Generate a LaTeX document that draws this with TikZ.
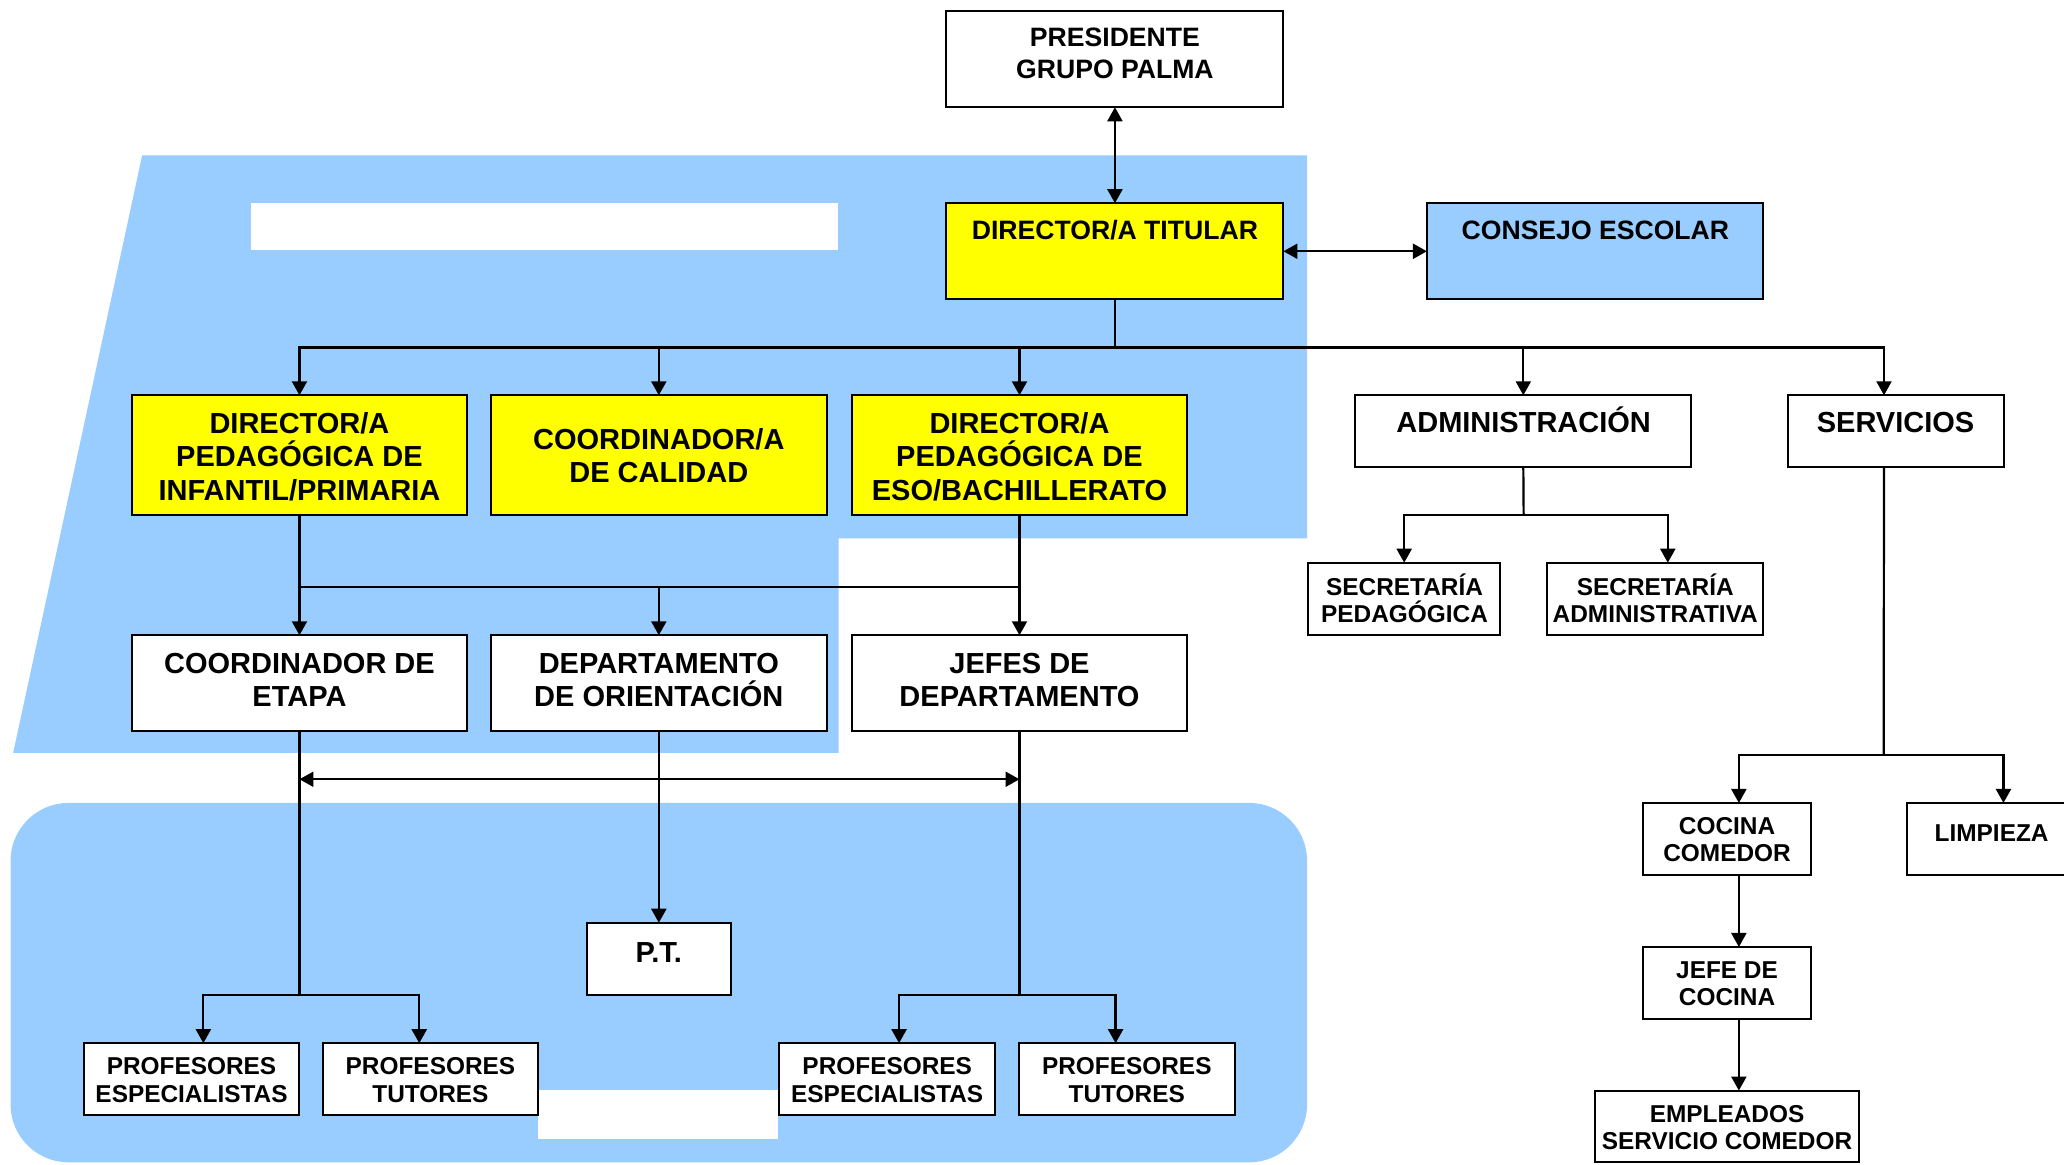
\documentclass[tikz,border=0pt]{standalone}
\usepackage{fontspec}
\setmainfont{Liberation Sans}
\usetikzlibrary{arrows.meta,calc}
\definecolor{bluec}{HTML}{99CCFF}
\definecolor{yellowc}{HTML}{FFFF00}
\newcommand\bx[6]{\node[#1, minimum width={(#5-#3)*0.6582pt}, minimum height={(#6-#4)*0.6582pt}] (#2) at ({(#3+#5)/2},{(#4+#6)/2}) {};}
\tikzset{
  box/.style={draw=black, line width=1pt, fill=white, inner sep=0pt, outer sep=0pt},
  ybox/.style={box, fill=yellowc},
  bbox/.style={box, fill=bluec},
  tA/.style={font=\fontsize{13.3}{15.8}\selectfont\bfseries, align=center, inner sep=0pt},
  tB/.style={font=\fontsize{14.5}{16.8}\selectfont\bfseries, align=center, inner sep=0pt},
  tC/.style={font=\fontsize{12.2}{13.6}\selectfont\bfseries, align=center, inner sep=0pt},
  ln/.style={line width=1.1pt, black},
  arr/.style={ln, -{Triangle[length=7pt,width=7.5pt]}},
  dbl/.style={ln, {Triangle[length=7pt,width=7.5pt]}-{Triangle[length=7pt,width=7.5pt]}}
}
\begin{document}
\begin{tikzpicture}[x=0.6582pt, y=-0.6582pt]
\useasboundingbox (0,0) rectangle (1568,885);
\clip (0,0) rectangle (1568,885);
% backgrounds
\fill[bluec] (108,118) -- (993,118) -- (993,409) -- (637,409) -- (637,572) -- (10,572) -- cycle;
\fill[white] (190.5,154.3) rectangle (636.7,190.3);
\fill[bluec, rounded corners=29pt] (8,610) rectangle (993,883);
\fill[white] (409,828) rectangle (591,865);
% boxes
\bx{box}{pres}{719}{8.5}{975}{81.5}
\bx{ybox}{dirtit}{719}{154.4}{975}{227.4}
\bx{bbox}{consejo}{1084}{154.4}{1339.5}{227.4}
\bx{ybox}{dirinf}{100}{300.3}{355}{391.4}
\bx{ybox}{calidad}{373}{300.3}{628}{391.4}
\bx{ybox}{direso}{647}{300.3}{902}{391.4}
\bx{box}{admin}{1029.5}{300.3}{1285}{355}
\bx{box}{serv}{1358}{300.3}{1522.5}{355}
\bx{box}{secped}{994}{427.5}{1139.5}{482.6}
\bx{box}{secadm}{1175.5}{427.5}{1339.5}{482.6}
\bx{box}{coordetapa}{100}{482.6}{355}{555.6}
\bx{box}{deporient}{373}{482.6}{628}{555.6}
\bx{box}{jefes}{647}{482.6}{902}{555.6}
\bx{box}{pt}{446}{701}{555}{756}
\bx{box}{profesp1}{63.5}{792.5}{227.5}{847}
\bx{box}{proftut1}{245}{792.5}{409}{847}
\bx{box}{profesp2}{592}{792.5}{756}{847}
\bx{box}{proftut2}{774}{792.5}{938}{847}
\bx{box}{cocina}{1248}{610}{1376}{665}
\bx{box}{limp}{1449}{610}{1577}{665}
\bx{box}{jefec}{1248}{719.4}{1376}{774}
\bx{box}{empl}{1211.7}{828.5}{1412.3}{883}
% texts
\node[tA] (pres-t) at (847,40.5) {PRESIDENTE\\GRUPO PALMA};
\node[tA] (dirtit-t) at (847,175) {DIRECTOR/A TITULAR};
\node[tA] (consejo-t) at (1212,175) {CONSEJO ESCOLAR};
\node[tB] (dirinf-t) at (227.5,347) {DIRECTOR/A\\PEDAGÓGICA DE\\INFANTIL/PRIMARIA};
\node[tB] (calidad-t) at (500.5,346) {COORDINADOR/A\\DE CALIDAD};
\node[tB] (direso-t) at (774.5,347) {DIRECTOR/A\\PEDAGÓGICA DE\\ESO/BACHILLERATO};
\node[tB] (admin-t) at (1157.5,319) {ADMINISTRACIÓN};
\node[tB] (serv-t) at (1440,321) {SERVICIOS};
\node[tC] (secped-t) at (1067,454.5) {SECRETARÍA\\PEDAGÓGICA};
\node[tC] (secadm-t) at (1257.5,454.5) {SECRETARÍA\\ADMINISTRATIVA};
\node[tB] (coordetapa-t) at (227.5,516.5) {COORDINADOR DE\\ETAPA};
\node[tB] (deporient-t) at (500.5,516.5) {DEPARTAMENTO\\DE ORIENTACIÓN};
\node[tB] (jefes-t) at (774.5,516.5) {JEFES DE\\DEPARTAMENTO};
\node[tB] (pt-t) at (500.5,724) {P.T.};
\node[tC] (profesp1-t) at (145.5,820.5) {PROFESORES\\ESPECIALISTAS};
\node[tC] (proftut1-t) at (327,820.5) {PROFESORES\\TUTORES};
\node[tC] (profesp2-t) at (674,820.5) {PROFESORES\\ESPECIALISTAS};
\node[tC] (proftut2-t) at (856,820.5) {PROFESORES\\TUTORES};
\node[tC] (cocina-t) at (1312,638) {COCINA\\COMEDOR};
\node[tC] (limp-t) at (1513,633) {LIMPIEZA};
\node[tC] (jefec-t) at (1312,747.5) {JEFE DE\\COCINA};
\node[tC] (empl-t) at (1312,856.5) {EMPLEADOS\\SERVICIO COMEDOR};
% connectors
\draw[dbl] (pres) -- (dirtit);
\draw[dbl] (dirtit) -- (consejo);
\coordinate (j1) at (847,264);
\draw[ln] (dirtit.south) -- (j1);
\foreach \n in {dirinf,calidad,direso,admin} \draw[arr] (j1) -| (\n.north);
\draw[arr] (j1) -| ($(serv.north)+(-9,0)$);
\coordinate (j2) at (1157.5,391.4);
\draw[ln] (admin.south) -- (j2);
\draw[arr] (j2) -| (secped.north);
\draw[arr] (j2) -| ($(secadm.north)+(9.5,0)$);
\draw[arr] (dirinf) -- (coordetapa);
\draw[arr] (direso) -- (jefes);
\coordinate (j3l) at (227.5,446);
\coordinate (j3r) at (774.5,446);
\draw[ln] (j3l) -- (j3r);
\draw[arr] (j3l -| deporient.north) -- (deporient.north);
\coordinate (h1) at (227.5,592);
\coordinate (h2) at (774.5,592);
\draw[dbl] (h1) -- (h2);
\coordinate (j4) at (227.5,756);
\draw[ln] (coordetapa.south) -- (j4);
\draw[arr] (j4) -| ($(profesp1.north)+(9,0)$);
\draw[arr] (j4) -| ($(proftut1.north)+(-8.5,0)$);
\draw[arr] (deporient) -- (pt);
\coordinate (j5) at (774.5,756);
\draw[ln] (jefes.south) -- (j5);
\draw[arr] (j5) -| ($(profesp2.north)+(9,0)$);
\draw[arr] (j5) -| ($(proftut2.north)+(-8.5,0)$);
\coordinate (j6) at (1431,573.3);
\draw[ln] ($(serv.south)+(-9,0)$) -- (j6);
\draw[arr] (j6) -| ($(cocina.north)+(9,0)$);
\draw[arr] (j6) -| ($(limp.north)+(9,0)$);
\draw[arr] ($(cocina.south)+(9,0)$) -- ($(jefec.north)+(9,0)$);
\draw[arr] ($(jefec.south)+(9,0)$) -- ($(empl.north)+(9,0)$);
\end{tikzpicture}
\end{document}
